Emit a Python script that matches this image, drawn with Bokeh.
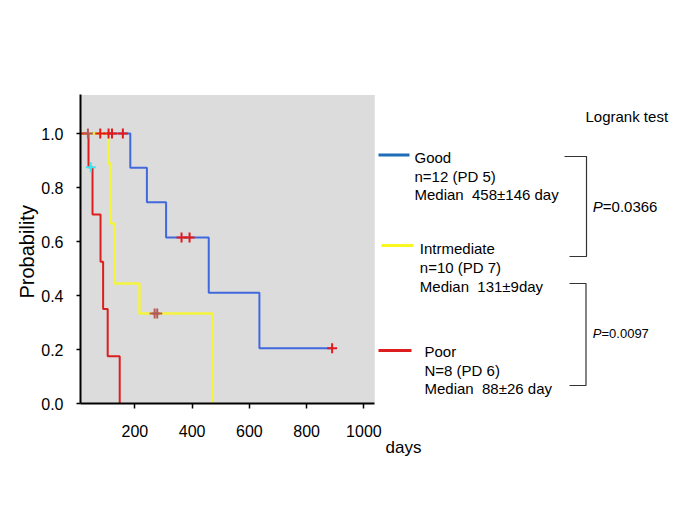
from bokeh.plotting import figure
from bokeh.models import Range1d, FixedTicker, Label, BoxAnnotation, Title
from bokeh.embed import file_html
from bokeh.resources import INLINE

# ---------------- data ----------------
good_days = [0, 184, 242, 309, 458, 635, 889]
good_surv = [1.0, 0.873, 0.745, 0.615, 0.41, 0.205, 0.205]
inter_days = [0, 108, 116, 129, 216, 472]
inter_surv = [1.0, 0.889, 0.667, 0.444, 0.333, 0.0]
poor_days = [0, 38, 52, 80, 89, 105, 147]
poor_surv = [1.0, 0.875, 0.70, 0.525, 0.35, 0.175, 0.0]

good_cens_days = [79, 108, 120, 158, 363, 391, 889]
good_cens_surv = [1.0, 1.0, 1.0, 1.0, 0.615, 0.615, 0.205]
inter_cens_days = [36, 269, 278]
inter_cens_surv = [1.0, 0.333, 0.333]
poor_cens_days = [46]
poor_cens_surv = [0.875]

x_ticks = [200, 400, 600, 800, 1000]
y_ticks = [0.0, 0.2, 0.4, 0.6, 0.8, 1.0]
axis_x_end = 1038
axis_y_end = 1.143

# ---------------- layout ----------------
W, H = 685, 513
LEFT, BOTTOM = 80, 110
FRAME_W, FRAME_H = W - LEFT, H - BOTTOM
PXPD = 0.28625      # px per day
PXPU = 270.0        # px per probability unit
X0 = 10.0

def dx(ref_x):
    return X0 + (ref_x - LEFT) / PXPD

def dy(ref_y):
    return (FRAME_H - ref_y) / PXPU

FONT = "Liberation Sans"
NB = "\u00a0"

p = figure(width=W, height=H, output_backend="svg", toolbar_location=None,
           x_range=Range1d(X0, X0 + FRAME_W / PXPD),
           y_range=Range1d(0, FRAME_H / PXPU),
           min_border_left=LEFT, min_border_bottom=BOTTOM,
           min_border_top=0, min_border_right=0)
p.outline_line_color = None
p.xgrid.visible = False
p.ygrid.visible = False
p.background_fill_color = "white"
p.border_fill_color = "white"

p.add_layout(BoxAnnotation(left=X0, right=axis_x_end, bottom=0, top=axis_y_end,
                           fill_color="#dcdcdc", fill_alpha=1.0, line_color=None,
                           level="underlay"))

# axes
xa = p.xaxis[0]
xa.ticker = FixedTicker(ticks=x_ticks)
xa.bounds = (X0, axis_x_end)
xa.axis_line_width = 2
xa.axis_line_color = "black"
xa.major_tick_out = 5
xa.major_tick_in = 0
xa.major_tick_line_width = 1.5
xa.minor_tick_line_color = None
xa.major_label_standoff = 16
xa.major_label_text_font = FONT
xa.major_label_text_font_size = "16px"
xa.major_label_text_color = "black"

ya = p.yaxis[0]
ya.ticker = FixedTicker(ticks=y_ticks)
ya.bounds = (0, axis_y_end)
ya.axis_line_width = 2
ya.axis_line_color = "black"
ya.major_tick_out = 4
ya.major_tick_in = 0
ya.major_tick_line_width = 1.5
ya.minor_tick_line_color = None
ya.major_label_standoff = 13
ya.major_label_text_font = FONT
ya.major_label_text_font_size = "16px"
ya.major_label_text_color = "black"
ya.major_label_overrides = {t: f"{t:.1f}" for t in y_ticks}

# axis titles (placed as Titles so they can be positioned along the bounded axes)
p.add_layout(Title(text="Probability", align="left", offset=FRAME_H - 298, standoff=2,
                   text_font=FONT, text_font_size="20px", text_font_style="normal",
                   text_color="black"), "left")
p.add_layout(Title(text="days", align="left", offset=385 - LEFT, standoff=-7,
                   text_font=FONT, text_font_size="17px", text_font_style="normal",
                   text_color="black"), "below")

# curves
BLUE, YELLOW, RED = "#4168dc", "#f4f43c", "#dc1e1e"
p.step(good_days, good_surv, mode="after", line_color=BLUE, line_width=2)
p.step(inter_days, inter_surv, mode="after", line_color=YELLOW, line_width=2.5)
p.step(poor_days, poor_surv, mode="after", line_color=RED, line_width=2)

# censor marks
p.scatter(good_cens_days, good_cens_surv, marker="cross", size=10, line_width=2, line_color="#e41a1a")
p.scatter(inter_cens_days, inter_cens_surv, marker="cross", size=10, line_width=2, line_color="#b45a5a")
p.scatter(poor_cens_days, poor_cens_surv, marker="cross", size=10, line_width=2, line_color="#3ee6f0")

# legend lines
p.multi_line(xs=[[dx(378), dx(409)], [dx(381), dx(413)], [dx(378), dx(411)]],
             ys=[[dy(154.5)] * 2, [dy(245)] * 2, [dy(350)] * 2],
             line_color=["#1f6db6", "#f8f820", "#dc1e1e"], line_width=3)

# brackets
p.multi_line(xs=[[dx(564), dx(586), dx(586), dx(569)], [dx(569), dx(585.5), dx(585.5), dx(569)]],
             ys=[[dy(156), dy(156), dy(256), dy(256)], [dy(283), dy(283), dy(385), dy(385)]],
             line_color="#333333", line_width=1.2)

SHIFT = -6.0

def lab(text, rx, ry, size="15px", style="normal"):
    p.add_layout(Label(x=dx(rx), y=dy(ry + SHIFT), text=text, text_font=FONT,
                       text_font_size=size, text_font_style=style,
                       text_color="black", text_baseline="alphabetic", text_align="left"))

lab("Logrank test", 585, 121.7)
lab("Good", 414, 162.7)
lab("n=12 (PD 5)", 414, 181.5)
lab("Median" + NB + " 458±146 day", 414, 200.3)
lab("P", 592.3, 211.7, style="italic")
lab("=0.0366", 602.3, 211.7)
lab("Intrmediate", 419.3, 254)
lab("n=10 (PD 7)", 419.3, 272.8)
lab("Median" + NB + " 131±9day", 419.3, 291.5)
lab("P", 592.3, 339.3, size="13px", style="italic")
lab("=0.0097", 601, 339.3, size="13px")
lab("Poor", 424, 356.7)
lab("N=8 (PD 6)", 424, 375.5)
lab("Median" + NB + " 88±26 day", 424, 394)

open("out.html", "w").write(file_html(p, INLINE))
